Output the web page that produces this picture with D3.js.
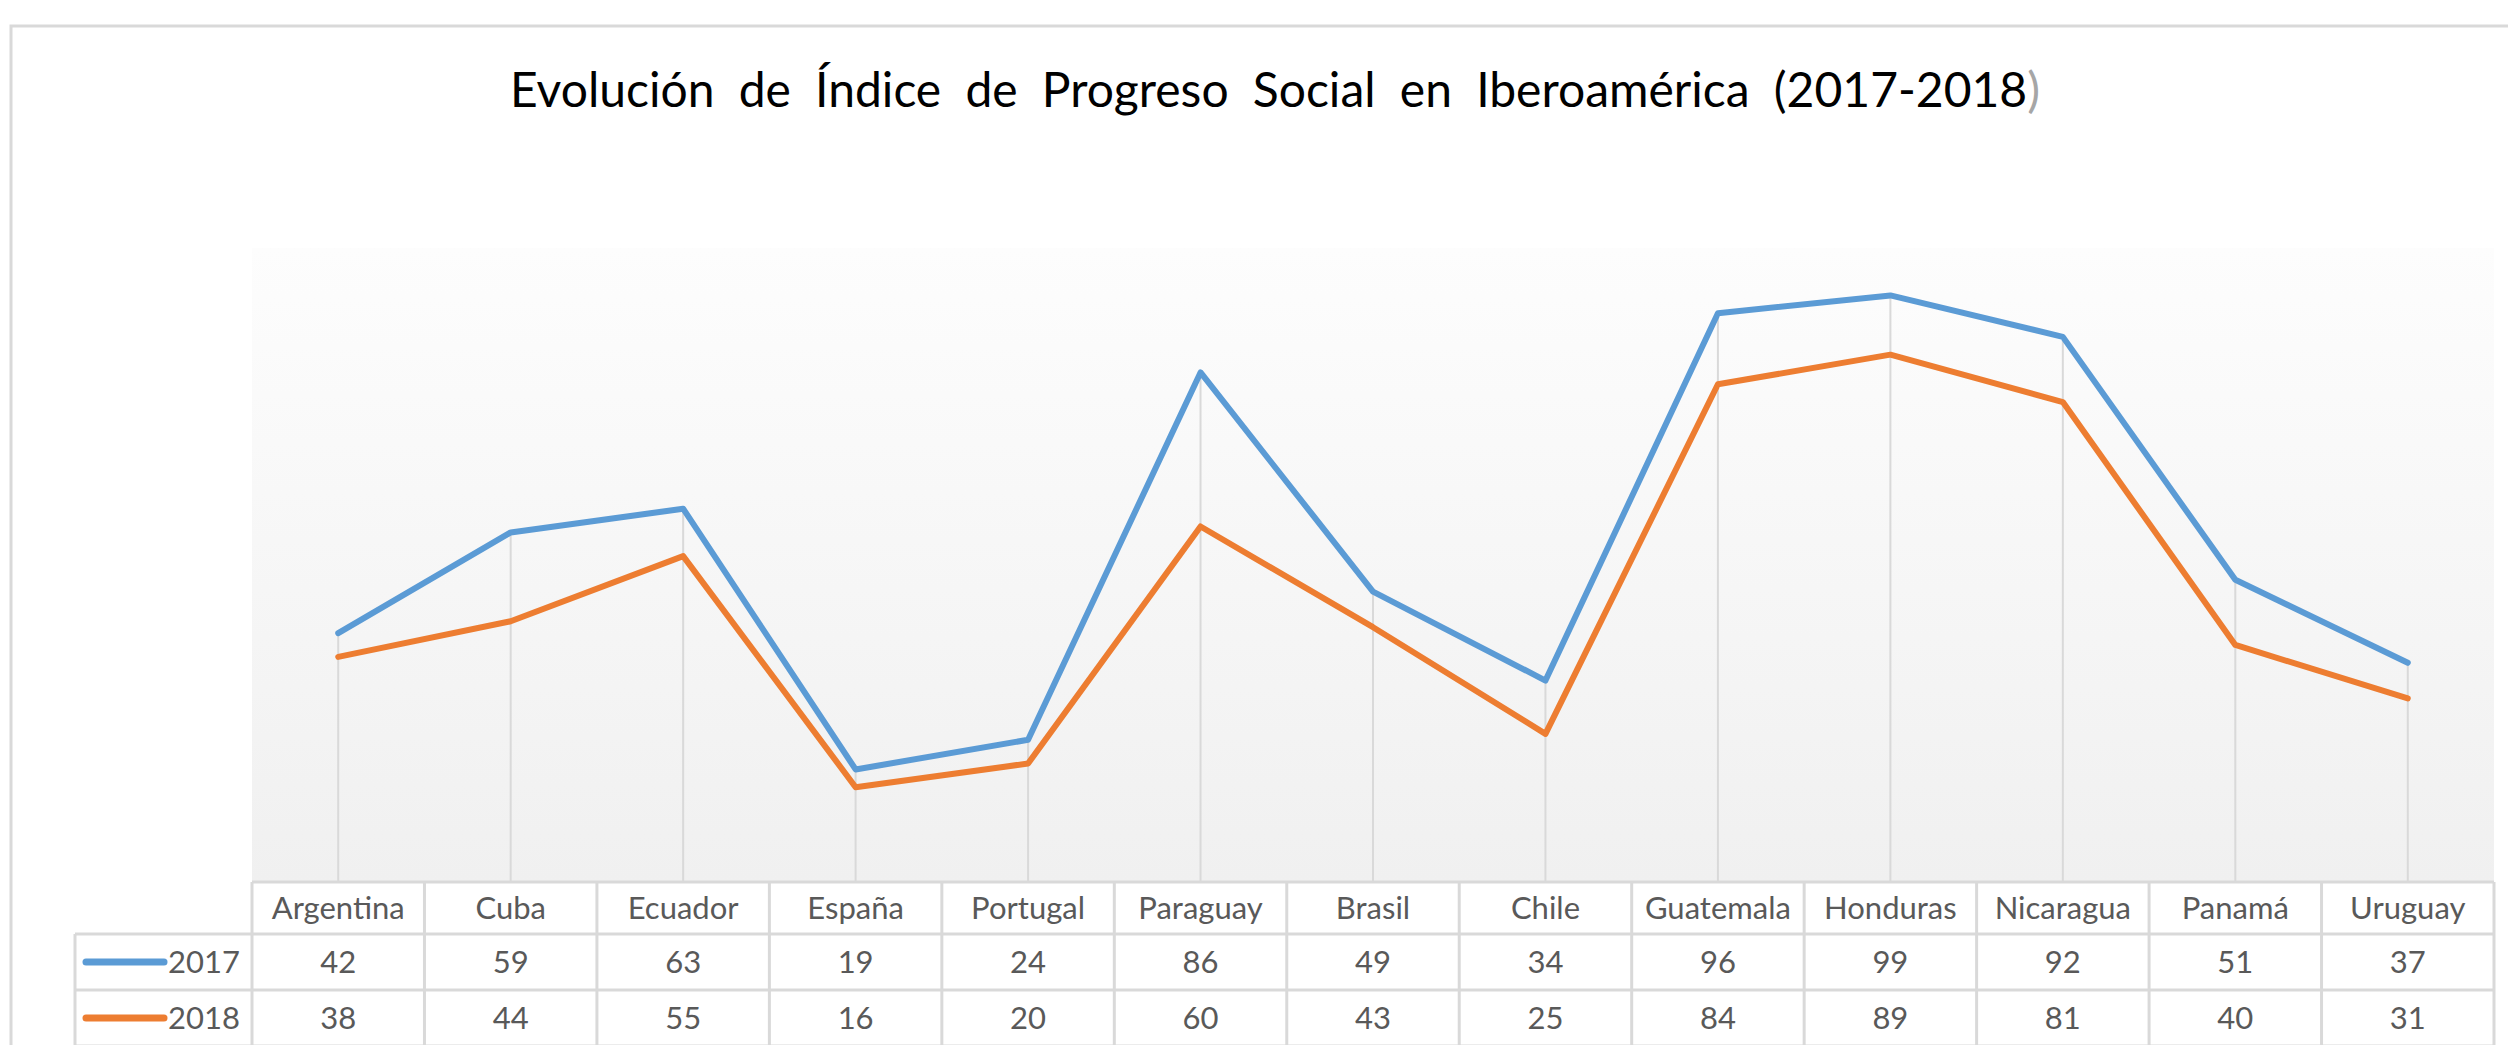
<!DOCTYPE html>
<html>
<head>
<meta charset="utf-8">
<script src="https://cdn.jsdelivr.net/npm/d3@7"></script>
<style>
  html, body { margin: 0; padding: 0; background: #fff; }
  svg { display: block; }
  text { font-family: Lato, "Open Sans", sans-serif; }
</style>
</head>
<body>
<script>
var categories = ['Argentina', 'Cuba', 'Ecuador', 'España', 'Portugal', 'Paraguay', 'Brasil',
  'Chile', 'Guatemala', 'Honduras', 'Nicaragua', 'Panamá', 'Uruguay']
var values2017 = [42, 59, 63, 19, 24, 86, 49, 34, 96, 99, 92, 51, 37]
var values2018 = [38, 44, 55, 16, 20, 60, 43, 25, 84, 89, 81, 40, 31]
var seriesNames = ['2017', '2018']
var seriesColors = ['#5b9bd5', '#ed7d31']
var title = 'Evolución de Índice de Progreso Social en Iberoamérica (2017-2018'

var W = 2508, H = 1045
var plotLeft = 252, plotRight = 2494, plotTop = 248, plotBottom = 882
var legendLeft = 75, rowH = 56, headH = 52
var grid = '#d9d9d9', ink = '#595959'

var series = [values2017, values2018]

var svg = d3.select('body').append('svg')
  .attr('width', W)
  .attr('height', H)

// chart frame (runs off the right and bottom of the picture)
svg.append('rect')
  .attr('x', 11).attr('y', 26)
  .attr('width', W + 40).attr('height', H + 40)
  .attr('fill', '#fff')
  .attr('stroke', grid)
  .attr('stroke-width', 3)

var grad = svg.append('defs').append('linearGradient')
  .attr('id', 'bg')
  .attr('x1', 0).attr('y1', 0).attr('x2', 0).attr('y2', 1)
grad.append('stop').attr('offset', 0).attr('stop-color', '#fdfdfd')
grad.append('stop').attr('offset', 1).attr('stop-color', '#f0f0f0')

svg.append('rect')
  .attr('x', plotLeft).attr('y', plotTop)
  .attr('width', plotRight - plotLeft).attr('height', plotBottom - plotTop)
  .attr('fill', 'url(#bg)')

var x = d3.scaleBand().domain(categories).range([plotLeft, plotRight])
var y = d3.scaleLinear().domain([0, 107]).range([plotBottom, plotTop])
var cx = function (d) { return x(d) + x.bandwidth() / 2 }

// title, word spacing stretched to the original width
var t = svg.append('text')
  .attr('x', 510)
  .attr('y', 107)
  .attr('font-size', 48)
  .attr('fill', '#000')
t.append('tspan').text(title)
t.append('tspan').attr('fill', '#a6a6a6').text(')')
var words = title.split(' ').length - 1
var extra = (2040 - 510 - t.node().getComputedTextLength()) / words
t.attr('word-spacing', Math.max(0, extra))

// drop lines
svg.append('g').selectAll('line')
  .data(categories)
  .enter().append('line')
  .attr('x1', cx).attr('x2', cx)
  .attr('y1', function (d, i) { return y(Math.max(values2017[i], values2018[i])) })
  .attr('y2', plotBottom)
  .attr('stroke', grid)
  .attr('stroke-width', 2)

var line = d3.line()
  .x(function (d, i) { return cx(categories[i]) })
  .y(function (d) { return y(d) })

svg.append('g').selectAll('path')
  .data(series)
  .enter().append('path')
  .attr('d', line)
  .attr('fill', 'none')
  .attr('stroke', function (d, i) { return seriesColors[i] })
  .attr('stroke-width', 6)
  .attr('stroke-linejoin', 'round')
  .attr('stroke-linecap', 'round')

// data table
var tbl = svg.append('g')
var rowTop = plotBottom + headH

tbl.selectAll('text.head')
  .data(categories)
  .enter().append('text')
  .attr('class', 'head')
  .attr('x', cx)
  .attr('y', plotBottom + 37)
  .attr('text-anchor', 'middle')
  .attr('font-size', 31)
  .attr('fill', ink)
  .text(function (d) { return d })

series.forEach(function (vals, s) {
  var ry = rowTop + s * rowH
  tbl.selectAll('text.v' + s)
    .data(vals)
    .enter().append('text')
    .attr('class', 'v' + s)
    .attr('x', function (d, i) { return cx(categories[i]) })
    .attr('y', ry + 39)
    .attr('text-anchor', 'middle')
    .attr('font-size', 31)
    .attr('fill', ink)
    .text(function (d) { return d })

  tbl.append('line')
    .attr('x1', legendLeft + 11).attr('x2', legendLeft + 89)
    .attr('y1', ry + 28).attr('y2', ry + 28)
    .attr('stroke', seriesColors[s])
    .attr('stroke-width', 7)
    .attr('stroke-linecap', 'round')

  tbl.append('text')
    .attr('x', plotLeft - 12)
    .attr('y', ry + 39)
    .attr('text-anchor', 'end')
    .attr('font-size', 31)
    .attr('fill', ink)
    .text(seriesNames[s])
})

// table rules
var hLines = [[plotLeft, plotBottom], [legendLeft, rowTop], [legendLeft, rowTop + rowH], [legendLeft, rowTop + 2 * rowH]]
tbl.selectAll('line.h')
  .data(hLines)
  .enter().append('line')
  .attr('x1', function (d) { return d[0] }).attr('x2', plotRight)
  .attr('y1', function (d) { return d[1] }).attr('y2', function (d) { return d[1] })
  .attr('stroke', grid)
  .attr('stroke-width', 3)

var vx = categories.map(function (c) { return x(c) }).concat([plotRight])
tbl.selectAll('line.v')
  .data(vx)
  .enter().append('line')
  .attr('x1', function (d) { return d }).attr('x2', function (d) { return d })
  .attr('y1', plotBottom).attr('y2', rowTop + 2 * rowH)
  .attr('stroke', grid)
  .attr('stroke-width', 3)

tbl.append('line')
  .attr('x1', legendLeft).attr('x2', legendLeft)
  .attr('y1', rowTop).attr('y2', rowTop + 2 * rowH)
  .attr('stroke', grid)
  .attr('stroke-width', 3)
</script>
</body>
</html>
